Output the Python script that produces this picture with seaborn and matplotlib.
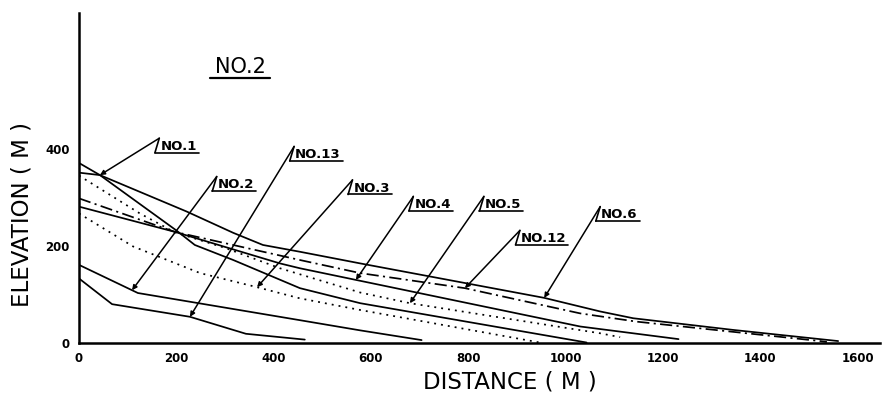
import numpy as np
import pandas as pd
import matplotlib
matplotlib.use("Agg")
import matplotlib.pyplot as plt
import seaborn as sns

# Longitudinal profiles: distance (m) and elevation (m) of each runout path
no1_x = [0, 43, 200, 238, 317, 454, 578, 1043]
no1_y = [351, 346, 232, 202, 171, 113, 82, 1]
no2_x = [0, 121, 454, 578, 704]
no2_y = [161, 103, 47, 26, 6]
no13_x = [0, 68, 228, 343, 464]
no13_y = [133, 80, 54, 19, 7]
no3_x = [0, 111, 249, 366, 454, 578, 947]
no3_y = [267, 199, 144, 115, 92, 68, 1]
no4_x = [0, 197, 413, 454, 569, 1030, 1232]
no4_y = [281, 229, 164, 154, 130, 34, 8]
no5_x = [0, 125, 197, 300, 413, 578, 680, 1071, 1112]
no5_y = [345, 267, 228, 196, 154, 104, 82, 20, 12]
no12_x = [0, 197, 454, 578, 793, 1030, 1146, 1523, 1537]
no12_y = [298, 229, 171, 144, 113, 61, 44, 4, 2]
no6_x = [0, 43, 221, 317, 378, 454, 578, 956, 1071, 1139, 1344, 1560]
no6_y = [371, 346, 271, 227, 202, 188, 164, 93, 65, 51, 27, 4]

profiles = ["NO.1", "NO.2", "NO.13", "NO.3", "NO.4", "NO.5", "NO.12", "NO.6"]
xs = [no1_x, no2_x, no13_x, no3_x, no4_x, no5_x, no12_x, no6_x]
ys = [no1_y, no2_y, no13_y, no3_y, no4_y, no5_y, no12_y, no6_y]

x_ticks = [0, 200, 400, 600, 800, 1000, 1200, 1400, 1600]
y_ticks = [0, 200, 400]

# where each leader arrow touches its profile, and the corner of its label
tip_x = [43, 109, 228, 366, 569, 680, 793, 956]
label_pos = [(165, 422), (283, 343), (442, 405), (562, 336),
             (687, 302), (832, 302), (906, 232), (1071, 281)]

solid = ""
dotted = (1.1, 2.9)
dashdot = (7, 2.5, 1.2, 2.5)
dash_map = {"NO.1": solid, "NO.2": solid, "NO.13": solid, "NO.3": dotted,
            "NO.4": solid, "NO.5": dotted, "NO.12": dashdot, "NO.6": solid}

rows = []
for name, px, py in zip(profiles, xs, ys):
    for i, (a, b) in enumerate(zip(px, py)):
        rows.append({"profile": name, "order": i, "distance": a, "elevation": b})
df = pd.DataFrame(rows)

sns.set_theme(style="white")
plt.rcParams["font.family"] = ["DejaVu Sans"]
plt.rcParams.update({"text.color": "black", "axes.labelcolor": "black",
                     "xtick.color": "black", "ytick.color": "black"})

fig = plt.figure(figsize=(8.9, 3.97), dpi=100)
ax = fig.add_axes([79 / 890, 54 / 397, 800.5 / 890, 330 / 397])

sns.lineplot(data=df, x="distance", y="elevation", hue="profile", style="profile",
             palette={p: "black" for p in profiles}, dashes=dash_map,
             sort=False, estimator=None, legend=False, linewidth=1.25, ax=ax)

ax.set_xlim(0, 1645)
ax.set_ylim(0, 680)
ax.set_xticks(x_ticks)
ax.set_yticks(y_ticks)
ax.set_xticklabels([str(v) for v in x_ticks], fontsize=8.5, fontweight="bold")
ax.set_yticklabels([str(v) for v in y_ticks], fontsize=8.5, fontweight="bold")
ax.tick_params(direction="inout", length=5, width=1.2, color="black", pad=4)
for s in ["top", "right"]:
    ax.spines[s].set_visible(False)
for s in ["left", "bottom"]:
    ax.spines[s].set_linewidth(1.8)
    ax.spines[s].set_color("black")

ax.set_xlabel("DISTANCE ( M )", fontsize=16.5)
ax.set_ylabel("ELEVATION ( M )", fontsize=16.5)
ax.xaxis.set_label_coords(0.538, -0.118)
ax.yaxis.set_label_coords(-0.071, 0.388)
ax.xaxis.label.set_va("center")
ax.yaxis.label.set_va("center")

# leader arrows with slashed, underlined labels
texts = []
for name, tx, (lx, ly), px, py in zip(profiles, tip_x, label_pos, xs, ys):
    ty = float(np.interp(tx, px, py))
    ax.annotate("", xy=(tx, ty), xytext=(lx, ly),
                arrowprops=dict(arrowstyle="-|>", color="black", lw=1.1,
                                mutation_scale=7, shrinkA=0, shrinkB=0))
    bx, by = lx - 9, ly - 30
    ax.plot([lx, bx], [ly, by], color="black", lw=1.2, solid_capstyle="round")
    t = ax.text(lx + 2, by + 6, name, fontsize=9.5, fontweight="bold",
                ha="left", va="baseline")
    texts.append((t, bx, by))

title = ax.text(279, 556, "NO.2", fontsize=15, ha="left", va="baseline")

fig.canvas.draw()
inv = ax.transData.inverted()
for t, bx, by in texts:
    bb = t.get_window_extent()
    right = inv.transform((bb.x1 + 2, bb.y0))[0]
    ax.plot([bx, right], [by, by], color="black", lw=1.2)
bb = title.get_window_extent()
l = inv.transform((bb.x0 - 5, bb.y0))[0]
r = inv.transform((bb.x1 + 4, bb.y0))[0]
ax.plot([l, r], [546, 546], color="black", lw=1.6)

fig.savefig("out.png", dpi=100)
